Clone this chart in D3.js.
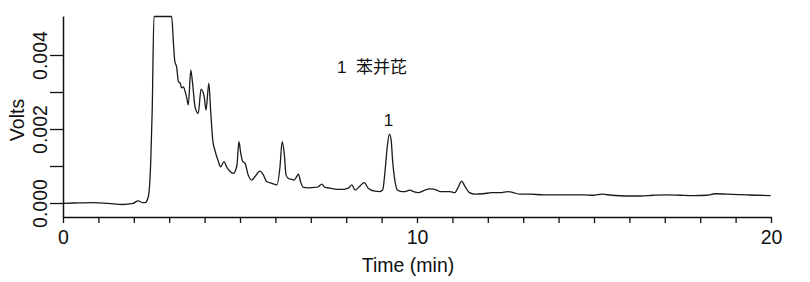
<!DOCTYPE html>
<html>
<head>
<meta charset="utf-8">
<script src="https://cdn.jsdelivr.net/npm/d3@7"></script>
<style>
  body { margin: 0; background: #fff; }
  svg text { font-family: "Liberation Sans", Arial, sans-serif; fill: #111; }
</style>
</head>
<body>
<div class="canvas"></div>
<script>
// retention time (min)
const times = [
  0, 0.34, 0.85, 1.27, 1.69, 1.98, 2.12, 2.26, 2.32, 2.41, 2.48, 2.52, 2.57,
  3.07, 3.12, 3.16, 3.21, 3.26, 3.31, 3.35, 3.40, 3.45, 3.49, 3.54, 3.61, 3.66,
  3.73, 3.82, 3.90, 3.95, 3.99, 4.04, 4.12, 4.17, 4.23, 4.29, 4.39, 4.45, 4.55,
  4.62, 4.72, 4.81, 4.91, 4.97, 5.02, 5.08, 5.14, 5.23, 5.33, 5.42, 5.56, 5.66,
  5.75, 5.90, 6.04, 6.13, 6.19, 6.25, 6.30, 6.36, 6.46, 6.53, 6.60, 6.65, 6.71,
  6.79, 6.93, 7.12, 7.21, 7.31, 7.40, 7.54, 7.73, 7.92, 8.06, 8.16, 8.25, 8.39,
  8.51, 8.62, 8.81, 8.95, 9.03, 9.10, 9.16, 9.22, 9.27, 9.31, 9.38, 9.45, 9.57,
  9.66, 9.80, 9.90, 10.04, 10.18, 10.37, 10.56, 10.65, 10.93, 11.07, 11.17,
  11.26, 11.36, 11.48, 11.64, 11.87, 12.11, 12.34, 12.58, 12.72, 12.91, 13.19,
  13.57, 13.95, 14.32, 14.70, 14.98, 15.22, 15.50, 15.92, 16.30, 16.68, 17.05,
  17.43, 17.81, 18.18, 18.42, 18.75, 19.31, 19.60, 19.99
];

// detector signal (V); the solvent front saturates at the top of the plot
const volts = [
  -0.00001, 0.00000, 0.00001, -0.00001, -0.00004, -0.00001, 0.00006, 0.00001, 0.00001, 0.00017, 0.00116, 0.00251, 0.00504,
  0.00504, 0.00432, 0.00382, 0.00368, 0.00328, 0.00324, 0.00311, 0.00314, 0.00301, 0.00287, 0.00265, 0.00359, 0.00324,
  0.00260, 0.00242, 0.00308, 0.00301, 0.00287, 0.00251, 0.00324, 0.00251, 0.00170, 0.00143, 0.00112, 0.00098, 0.00112,
  0.00098, 0.00085, 0.00080, 0.00100, 0.00166, 0.00135, 0.00112, 0.00108, 0.00076, 0.00062, 0.00071, 0.00086, 0.00076,
  0.00058, 0.00053, 0.00049, 0.00098, 0.00166, 0.00134, 0.00076, 0.00067, 0.00064, 0.00062, 0.00071, 0.00078, 0.00058,
  0.00042, 0.00041, 0.00042, 0.00044, 0.00051, 0.00042, 0.00040, 0.00037, 0.00037, 0.00040, 0.00049, 0.00035, 0.00046,
  0.00055, 0.00040, 0.00032, 0.00031, 0.00035, 0.00089, 0.00152, 0.00186, 0.00170, 0.00116, 0.00058, 0.00035, 0.00031,
  0.00031, 0.00035, 0.00031, 0.00028, 0.00033, 0.00038, 0.00035, 0.00031, 0.00031, 0.00028, 0.00044,
  0.00059, 0.00044, 0.00028, 0.00024, 0.00025, 0.00028, 0.00028, 0.00031, 0.00028, 0.00024, 0.00024,
  0.00022, 0.00022, 0.00022, 0.00022, 0.00021, 0.00024, 0.00021, 0.00019, 0.00019, 0.00021, 0.00022,
  0.00021, 0.00020, 0.00021, 0.00025, 0.00024, 0.00022, 0.00021, 0.00020
];

const xTicks = d3.range(0, 21, 1);
const xTickLabels = [0, 10, 20];
const yTicks = [0, 0.001, 0.002, 0.003, 0.004];
const yTickLabels = [0, 0.002, 0.004];

const peakLabels = [{ t: 9.22, v: 0.00186, label: '1' }];
const legendText = '1  苯并芘';

const data = times.map((t, i) => ({ t, v: volts[i] }));

const width = 810, height = 282;
const margin = { top: 16, right: 39, bottom: 65, left: 63 };
const graphWidth = width - margin.left - margin.right;
const graphHeight = height - margin.top - margin.bottom;

const svg = d3.select('.canvas')
  .append('svg')
  .attr('width', width)
  .attr('height', height);

const graph = svg.append('g')
  .attr('transform', `translate(${margin.left}, ${margin.top})`);

// scales
const x = d3.scaleLinear().domain([0, 20]).range([0, graphWidth]);
const y = d3.scaleLinear().domain([-0.000378, 0.005054]).range([graphHeight, 0]);

// axes
const xAxis = d3.axisBottom(x)
  .tickValues(xTicks)
  .tickSize(6)
  .tickSizeOuter(0)
  .tickFormat(d => xTickLabels.includes(d) ? d3.format('d')(d) : '');

const yAxis = d3.axisLeft(y)
  .tickValues(yTicks)
  .tickSize(13)
  .tickSizeOuter(0)
  .tickFormat(d => yTickLabels.some(l => Math.abs(l - d) < 1e-9) ? d3.format('.3f')(d) : '');

const xAxisGroup = graph.append('g')
  .attr('transform', `translate(0, ${graphHeight})`)
  .call(xAxis);

const yAxisGroup = graph.append('g').call(yAxis);

[xAxisGroup, yAxisGroup].forEach(g => {
  g.select('.domain').attr('stroke', '#111').attr('stroke-width', 1.5);
  g.selectAll('.tick line').attr('stroke', '#111').attr('stroke-width', 1.3);
  g.selectAll('text')
    .style('font-family', '"Liberation Sans", Arial, sans-serif')
    .style('font-size', '19.5px')
    .attr('fill', '#111');
});

xAxisGroup.selectAll('text').attr('dy', '0.71em').attr('y', 13);

// rotate y tick labels
yAxisGroup.selectAll('.tick text')
  .attr('x', null)
  .attr('dy', null)
  .attr('text-anchor', 'middle')
  .attr('transform', 'translate(-16, 0) rotate(-90)');

// clip the trace to the plot (a little headroom so the saturated top shows)
svg.append('clipPath').attr('id', 'plot-clip')
  .append('rect')
  .attr('x', 0).attr('y', -2)
  .attr('width', graphWidth).attr('height', graphHeight + 2);

const line = d3.line()
  .curve(d3.curveMonotoneX)
  .x(d => x(d.t))
  .y(d => y(d.v));

graph.append('path')
  .datum(data)
  .attr('clip-path', 'url(#plot-clip)')
  .attr('fill', 'none')
  .attr('stroke', '#1a1a1a')
  .attr('stroke-width', 1.3)
  .attr('stroke-linejoin', 'round')
  .attr('d', line);

// peak number
graph.selectAll('.peak-label')
  .data(peakLabels)
  .enter().append('text')
  .attr('class', 'peak-label')
  .attr('x', d => x(d.t) - 1)
  .attr('y', d => y(d.v) - 8)
  .attr('text-anchor', 'middle')
  .attr('fill', '#111')
  .style('font-size', '17px')
  .text(d => d.label);

// compound legend
svg.append('text')
  .attr('x', 337)
  .attr('y', 73)
  .style('font-family', '"Liberation Sans", "Noto Sans CJK SC", sans-serif')
  .style('font-size', '17px')
  .attr('fill', '#222')
  .attr('xml:space', 'preserve')
  .text(legendText);

// axis titles
svg.append('text')
  .attr('transform', `translate(24, 120) rotate(-90)`)
  .attr('text-anchor', 'middle')
  .style('font-size', '19.5px')
  .text('Volts');

svg.append('text')
  .attr('x', 408)
  .attr('y', 272)
  .attr('text-anchor', 'middle')
  .style('font-size', '19.5px')
  .text('Time (min)');
</script>
</body>
</html>
